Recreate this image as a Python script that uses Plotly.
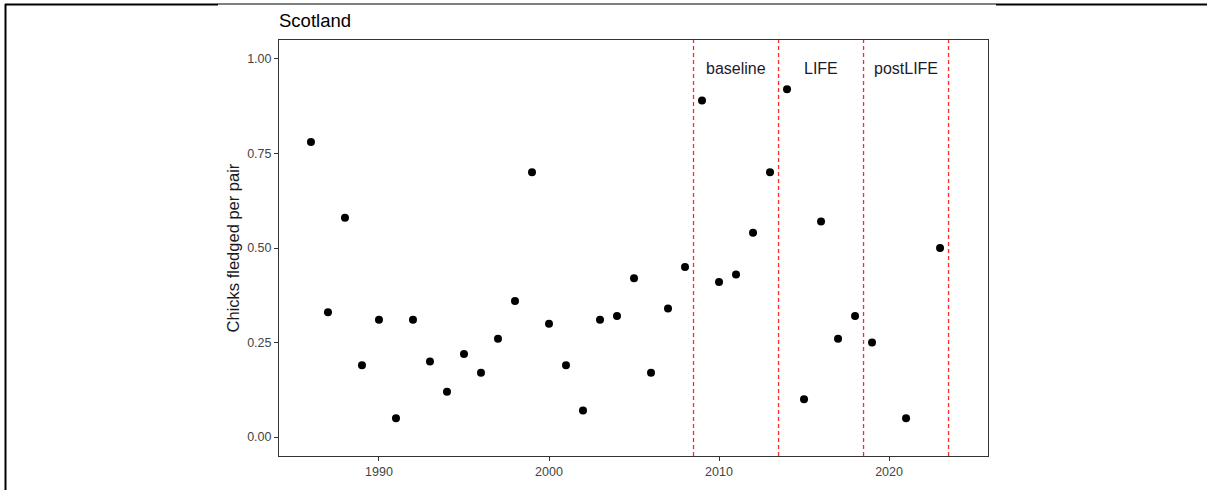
import plotly.graph_objects as go

years = [1986, 1987, 1988, 1989, 1990, 1991, 1992, 1993, 1994, 1995, 1996, 1997,
         1998, 1999, 2000, 2001, 2002, 2003, 2004, 2005, 2006, 2007, 2008, 2009,
         2010, 2011, 2012, 2013, 2014, 2015, 2016, 2017, 2018, 2019, 2021, 2023]
chicks = [0.78, 0.33, 0.58, 0.19, 0.31, 0.05, 0.31, 0.20, 0.12, 0.22, 0.17, 0.26,
          0.36, 0.70, 0.30, 0.19, 0.07, 0.31, 0.32, 0.42, 0.17, 0.34, 0.45, 0.89,
          0.41, 0.43, 0.54, 0.70, 0.92, 0.10, 0.57, 0.26, 0.32, 0.25, 0.05, 0.50]

period_breaks = [2008.5, 2013.5, 2018.5, 2023.5]
period_labels = ["baseline", "LIFE", "postLIFE"]
period_label_x = [2011, 2016, 2021]
period_label_y = 0.975

y_ticks = [0.0, 0.25, 0.5, 0.75, 1.0]
y_tick_text = ["0.00", "0.25", "0.50", "0.75", "1.00"]
x_ticks = [1990, 2000, 2010, 2020]

W, H = 1207, 490
ml, mr, mt, mb = 279, 219, 40, 34
pw, ph = W - ml - mr, H - mt - mb

def px(x):
    return (x - ml) / pw

def py(y):
    return (H - mb - y) / ph

FONT = "Liberation Sans, Arial, sans-serif"

fig = go.Figure()
fig.add_trace(go.Scatter(
    x=years, y=chicks, mode="markers",
    marker=dict(color="black", size=8),
    showlegend=False, hoverinfo="x+y",
))

shapes = []
for b in period_breaks:
    shapes.append(dict(type="line", xref="x", yref="paper", x0=b, x1=b, y0=0, y1=1,
                       line=dict(color="#ff2a2a", width=1.3, dash="4px,3px"), layer="above"))
# outer frame lines
shapes.append(dict(type="line", xref="paper", yref="paper", x0=px(5), x1=px(218), y0=py(4.5), y1=py(4.5),
                   line=dict(color="black", width=2)))
shapes.append(dict(type="line", xref="paper", yref="paper", x0=px(218), x1=px(996), y0=py(4), y1=py(4),
                   line=dict(color="black", width=1)))
shapes.append(dict(type="line", xref="paper", yref="paper", x0=px(996), x1=px(1207), y0=py(4.5), y1=py(4.5),
                   line=dict(color="black", width=2)))
shapes.append(dict(type="line", xref="paper", yref="paper", x0=px(5.5), x1=px(5.5), y0=py(4), y1=py(490),
                   line=dict(color="black", width=2)))

annotations = []
for lbl, lx in zip(period_labels, period_label_x):
    annotations.append(dict(x=lx, y=period_label_y, xref="x", yref="y", text=lbl,
                            showarrow=False, font=dict(size=16, color="#1a1a2e", family=FONT)))

fig.update_layout(
    width=W, height=H,
    margin=dict(l=ml, r=mr, t=mt, b=mb),
    paper_bgcolor="white", plot_bgcolor="white",
    font=dict(family=FONT),
    title=dict(text="Scotland", xref="paper", x=0, xanchor="left",
               yref="container", y=1 - 21 / H, yanchor="middle",
               font=dict(size=18.5, color="black", family=FONT)),
    shapes=shapes,
    annotations=annotations,
    showlegend=False,
)
fig.update_xaxes(
    range=[1984.12, 2025.82], tickvals=x_ticks, ticks="outside", ticklen=4,
    tickcolor="#333333", showline=True, linecolor="#333333", linewidth=1, mirror=True,
    showgrid=False, zeroline=False, tickfont=dict(size=12.5, color="#444444", family=FONT),
)
fig.update_yaxes(
    range=[-0.05, 1.05], tickvals=y_ticks, ticktext=y_tick_text, ticks="outside", ticklen=4,
    tickcolor="#333333", showline=True, linecolor="#333333", linewidth=1, mirror=True,
    showgrid=False, zeroline=False, tickfont=dict(size=12.5, color="#444444", family=FONT),
    title=dict(text="Chicks fledged per pair", font=dict(size=16.5, color="#1a1a1a", family=FONT), standoff=3),
)

fig.write_html("out.html")
